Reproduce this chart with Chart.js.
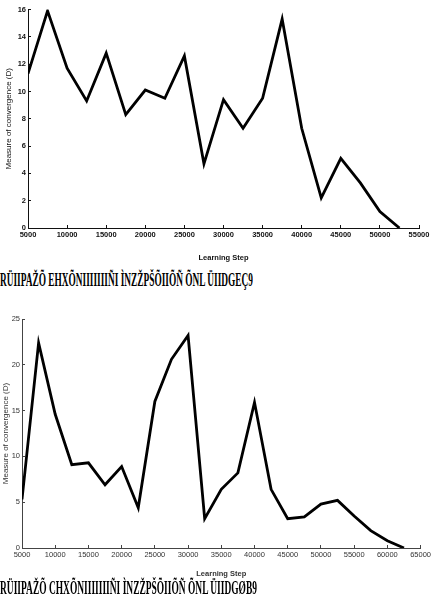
<!DOCTYPE html>
<html>
<head>
<meta charset="utf-8">
<script src="https://cdn.jsdelivr.net/npm/chart.js@4.4.0/dist/chart.umd.min.js"></script>
<style>
    html, body { margin: 0; padding: 0; background: #fff; }
    body { width: 436px; height: 594px; position: relative; overflow: hidden; }
    .box { position: absolute; left: 0; width: 436px; }
    .caption {
        position: absolute; left: 0; white-space: nowrap;
        font-family: "Liberation Serif", serif; font-weight: bold;
        font-size: 19px; line-height: 19px; color: #000; transform-origin: 0 50%;
    }
</style>
</head>
<body>
<div class="box" style="top:0;height:262px"><canvas id="chartA"></canvas></div>
<div class="caption" id="capA" style="top:270px">RÜIIPAŽÕ EHXÕNIIIIIIIÑI ÌNZŽPŠÕIIÕÑ ÕNL ÜIIDGEÇ9</div>
<div class="box" style="top:305px;height:273px"><canvas id="chartB"></canvas></div>
<div class="caption" id="capB" style="top:578px">RÜIIPAŽÕ CHXÕNIIIIIIIÑI ÌNZŽPŠÕIIÕÑ ÕNL ÜIIDGØB9</div>
<script>

const stepsA = [5000, 7500, 10000, 12500, 15000, 17500, 20000, 22500, 25000, 27500,
    30000, 32500, 35000, 37500, 40000, 42500, 45000, 47500, 50000, 52500];
const convA = [11.3, 15.9, 11.7, 9.3, 12.8, 8.3, 10.1, 9.5, 12.6, 4.7,
    9.4, 7.3, 9.5, 15.3, 7.3, 2.2, 5.1, 3.3, 1.2, 0];
const xTicksA = [5000, 10000, 15000, 20000, 25000, 30000, 35000, 40000, 45000, 50000, 55000];
const yTicksA = [0, 2, 4, 6, 8, 10, 12, 14, 16];

const stepsB = [5000, 7500, 10000, 12500, 15000, 17500, 20000, 22500, 25000, 27500,
    30000, 32500, 35000, 37500, 40000, 42500, 45000, 47500, 50000, 52500,
    55000, 57500, 60000, 62500];
const convB = [5.3, 22.4, 14.6, 9.1, 9.3, 6.9, 8.9, 4.4, 16.0, 20.6,
    23.2, 3.2, 6.4, 8.2, 15.9, 6.4, 3.2, 3.4, 4.8, 5.2,
    3.5, 1.9, 0.8, 0];
const xTicksB = [5000, 10000, 15000, 20000, 25000, 30000, 35000, 40000, 45000, 50000, 55000, 60000, 65000];
const yTicksB = [0, 5, 10, 15, 20, 25];

const X_TITLE = "Learning Step";
const Y_TITLE = "Measure of convergence (D)";

function makeChart(id, steps, values, xTicks, yTicks, look) {

    const points = steps.map((s, i) => ({ x: s, y: values[i] }));

    return new Chart(document.getElementById(id), {
        type: "line",
        data: {
            datasets: [{
                data: points,
                borderColor: "#000",
                borderWidth: 2.8,
                pointRadius: 0,
                tension: 0,
                borderJoinStyle: "miter"
            }]
        },
        options: {
            responsive: true,
            maintainAspectRatio: false,
            animation: false,
            layout: { padding: look.padding },
            plugins: { legend: { display: false }, tooltip: { enabled: false } },
            scales: {
                x: {
                    type: "linear",
                    min: xTicks[0],
                    max: xTicks[xTicks.length - 1],
                    afterBuildTicks: scale => { scale.ticks = xTicks.map(v => ({ value: v })); },
                    afterFit: scale => { scale.height = look.xHeight; },
                    border: { color: look.axis, width: 1 },
                    grid: { drawOnChartArea: false, tickLength: -3, color: look.axis },
                    ticks: {
                        padding: 5,
                        maxRotation: 0,
                        autoSkip: false,
                        color: look.text,
                        font: { family: "Liberation Sans", size: 7.5, weight: look.weight },
                        callback: v => String(v)
                    },
                    title: {
                        display: true,
                        text: X_TITLE,
                        color: look.text,
                        padding: { top: look.xTitlePad, bottom: 0 },
                        font: { family: "Liberation Sans", size: 7.5, weight: "bold" }
                    }
                },
                y: {
                    min: yTicks[0],
                    max: yTicks[yTicks.length - 1],
                    afterBuildTicks: scale => { scale.ticks = yTicks.map(v => ({ value: v })); },
                    afterFit: scale => { scale.width = look.yWidth; },
                    border: { color: look.axis, width: 1 },
                    grid: { drawOnChartArea: false, tickLength: -3, color: look.axis },
                    ticks: {
                        padding: 5,
                        color: look.text,
                        font: { family: "Liberation Sans", size: 7.5, weight: look.weight }
                    },
                    title: {
                        display: true,
                        text: Y_TITLE,
                        color: look.text,
                        padding: { top: look.yTitlePad, bottom: 0 },
                        font: { family: "Liberation Sans", size: 8 }
                    }
                }
            }
        }
    });
}

makeChart("chartA", stepsA, convA, xTicksA, yTicksA, {
    padding: { top: 5, right: 17, left: 0, bottom: 0 },
    xHeight: 34, yWidth: 28, xTitlePad: 8, yTitlePad: 4,
    axis: "#111", text: "#111", weight: "bold"
});

makeChart("chartB", stepsB, convB, xTicksB, yTicksB, {
    padding: { top: 14, right: 14, left: 0, bottom: 0 },
    xHeight: 30, yWidth: 22, xTitlePad: 5, yTitlePad: 1,
    axis: "#444", text: "#333", weight: "normal"
});

// squeeze the captions to the width they take in the figure
[["capA", 253], ["capB", 257]].forEach(([id, w]) => {
    const el = document.getElementById(id);
    el.style.transform = "scaleX(" + (w / el.offsetWidth) + ")";
});

</script>
</body>
</html>
